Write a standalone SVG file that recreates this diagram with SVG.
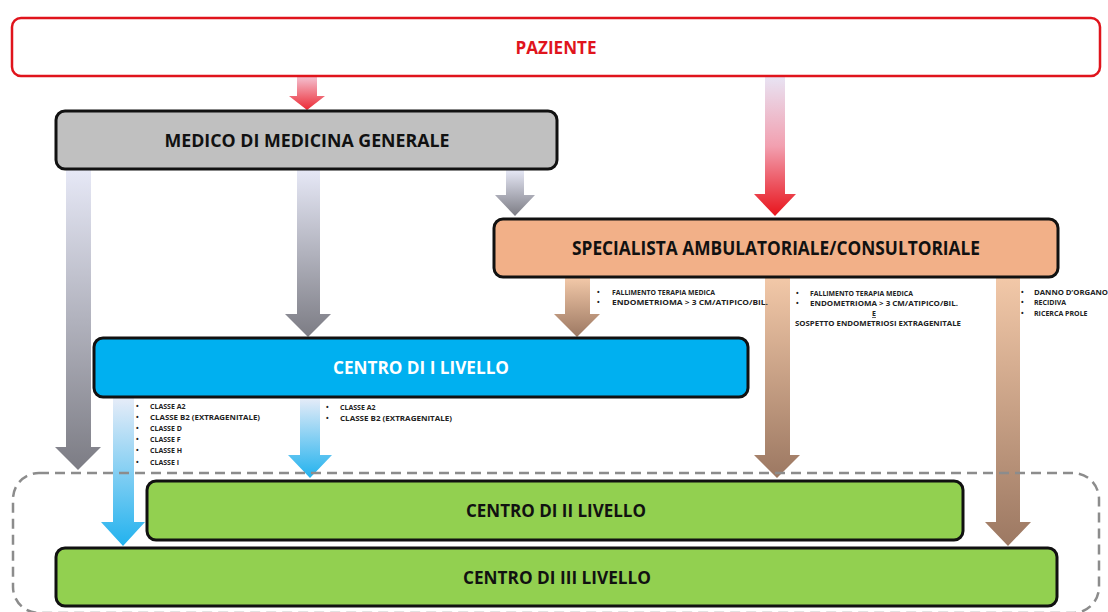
<svg xmlns="http://www.w3.org/2000/svg" width="1108" height="612" viewBox="0 0 1108 612">
<defs>
<linearGradient id="gRed" x1="0" y1="0" x2="0" y2="1"><stop offset="0" stop-color="#e8e4f4"/><stop offset="0.5" stop-color="#f2a0b0"/><stop offset="1" stop-color="#e8141c"/></linearGradient>
<linearGradient id="gRed2" x1="0" y1="0" x2="0" y2="1"><stop offset="0" stop-color="#f4c4d4"/><stop offset="1" stop-color="#ec2a34"/></linearGradient>
<linearGradient id="gGray" x1="0" y1="0" x2="0" y2="1"><stop offset="0" stop-color="#e6e8f6"/><stop offset="1" stop-color="#7c7c84"/></linearGradient>
<linearGradient id="gBrown" x1="0" y1="0" x2="0" y2="1"><stop offset="0" stop-color="#f2c8a8"/><stop offset="1" stop-color="#9c7862"/></linearGradient>
<linearGradient id="gBlue" x1="0" y1="0" x2="0" y2="1"><stop offset="0" stop-color="#e6ecf8"/><stop offset="1" stop-color="#22b2ee"/></linearGradient>
</defs>
<style>
.lbl{font-family:"Open Sans","Liberation Sans",sans-serif;font-weight:bold;text-anchor:middle;dominant-baseline:central}
.box{stroke:#111;stroke-width:3}
.sm{font-family:"Open Sans","Liberation Sans",sans-serif;font-weight:bold;font-size:7px;fill:#222}
</style>
<rect width="1108" height="612" fill="#fff"/>

<g id="connectors">
<path d="M297,76 H317 V96 H325 L307,110 L289,96 H297 Z" fill="url(#gRed2)"/>
<path d="M765,76 H785 V194 H796 L775,216 L754,194 H765 Z" fill="url(#gRed)"/>
<path d="M506,170 H524 V195 H535 L515,216 L495,195 H506 Z" fill="url(#gGray)"/>
<path d="M66,170 H91 V447 H101 L78,470 L55,447 H66 Z" fill="url(#gGray)"/>
<path d="M297,170 H320 V314 H331 L308,337 L285,314 H297 Z" fill="url(#gGray)"/>
<path d="M565,278 H590 V314 H600 L577,337 L554,314 H565 Z" fill="url(#gBrown)"/>
<path d="M765,278 H790 V455 H800 L777,478 L754,455 H765 Z" fill="url(#gBrown)"/>
<path d="M996,278 H1020 V522 H1031 L1008,546 L985,522 H996 Z" fill="url(#gBrown)"/>
<path d="M113,398 H134 V522 H145 L123,546 L101,522 H113 Z" fill="url(#gBlue)"/>
<path d="M300,398 H320 V455 H332 L310,478 L288,455 H300 Z" fill="url(#gBlue)"/>
</g>

<rect id="group-frame" x="13" y="473" width="1086" height="140" rx="26" fill="none" stroke="#8c8c8c" stroke-width="2.5" stroke-dasharray="10 6"/>

<g id="paziente">
<rect x="12" y="18" width="1088" height="58" rx="9" fill="#fff" stroke="#e0141c" stroke-width="2.5"/>
<text class="lbl" x="556" y="47" font-size="17" fill="#e0141c" textLength="81" lengthAdjust="spacingAndGlyphs">PAZIENTE</text>
</g>

<g id="medico">
<rect class="box" x="56" y="111" width="501" height="58" rx="9" fill="#c0c0c0"/>
<text class="lbl" x="307" y="140" font-size="18" fill="#111" textLength="285" lengthAdjust="spacingAndGlyphs">MEDICO DI MEDICINA GENERALE</text>
</g>

<g id="specialista">
<rect class="box" x="494" y="219" width="564" height="58" rx="9" fill="#f2b088"/>
<text class="lbl" x="776" y="248" font-size="19" fill="#111" textLength="408" lengthAdjust="spacingAndGlyphs">SPECIALISTA AMBULATORIALE/CONSULTORIALE</text>
</g>

<g id="centro1">
<rect class="box" x="94" y="338" width="654" height="59" rx="9" fill="#00b0f0"/>
<text class="lbl" x="421" y="367" font-size="18" fill="#fff" textLength="176" lengthAdjust="spacingAndGlyphs">CENTRO DI I LIVELLO</text>
</g>

<g id="centro2">
<rect class="box" x="147" y="481" width="816" height="59" rx="9" fill="#92d050"/>
<text class="lbl" x="556" y="510" font-size="18" fill="#111" textLength="180" lengthAdjust="spacingAndGlyphs">CENTRO DI II LIVELLO</text>
</g>

<g id="centro3">
<rect class="box" x="56" y="548" width="1001" height="58" rx="9" fill="#92d050"/>
<text class="lbl" x="557" y="577" font-size="18" fill="#111" textLength="188" lengthAdjust="spacingAndGlyphs">CENTRO DI III LIVELLO</text>
</g>

<g id="notes-spec-left" class="sm">
<text x="597" y="295">•</text><text x="612" y="295" textLength="103" lengthAdjust="spacingAndGlyphs">FALLIMENTO TERAPIA MEDICA</text>
<text x="597" y="305">•</text><text x="612" y="305" textLength="156" lengthAdjust="spacingAndGlyphs">ENDOMETRIOMA &gt; 3 CM/ATIPICO/BIL.</text>
</g>

<g id="notes-spec-mid" class="sm">
<text x="796" y="296">•</text><text x="810" y="296" textLength="103" lengthAdjust="spacingAndGlyphs">FALLIMENTO TERAPIA MEDICA</text>
<text x="796" y="306">•</text><text x="810" y="306" textLength="148" lengthAdjust="spacingAndGlyphs">ENDOMETRIOMA &gt; 3 CM/ATIPICO/BIL.</text>
<text x="874" y="316" text-anchor="middle" text-decoration="underline">E</text>
<text x="795" y="326" textLength="166" lengthAdjust="spacingAndGlyphs">SOSPETTO ENDOMETRIOSI EXTRAGENITALE</text>
</g>

<g id="notes-spec-right" class="sm">
<text x="1021" y="295">•</text><text x="1034" y="295" textLength="74" lengthAdjust="spacingAndGlyphs">DANNO D’ORGANO</text>
<text x="1021" y="305">•</text><text x="1034" y="305">RECIDIVA</text>
<text x="1021" y="316">•</text><text x="1034" y="316">RICERCA PROLE</text>
</g>

<g id="notes-c1-left" class="sm">
<text x="136" y="409">•</text><text x="150" y="409">CLASSE A2</text>
<text x="136" y="420">•</text><text x="150" y="420" textLength="110" lengthAdjust="spacingAndGlyphs">CLASSE B2 (EXTRAGENITALE)</text>
<text x="136" y="431">•</text><text x="150" y="431">CLASSE D</text>
<text x="136" y="442">•</text><text x="150" y="442">CLASSE F</text>
<text x="136" y="453">•</text><text x="150" y="453">CLASSE H</text>
<text x="136" y="465">•</text><text x="150" y="465">CLASSE I</text>
</g>

<g id="notes-c1-mid" class="sm">
<text x="326" y="410">•</text><text x="340" y="410">CLASSE A2</text>
<text x="326" y="421">•</text><text x="340" y="421" textLength="112" lengthAdjust="spacingAndGlyphs">CLASSE B2  (EXTRAGENITALE)</text>
</g>
</svg>
